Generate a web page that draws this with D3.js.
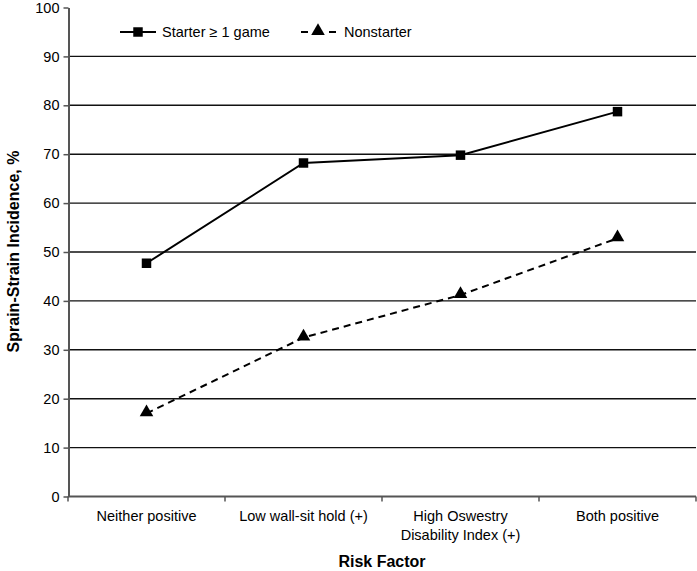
<!DOCTYPE html>
<html>
<head>
<meta charset="utf-8">
<script src="https://cdn.jsdelivr.net/npm/d3@7"></script>
<style>
  body { margin: 0; background: #fff; }
  text { font-family: "Liberation Sans", Arial, sans-serif; fill: #000; }
</style>
</head>
<body>
<svg id="chart" width="697" height="571"></svg>
<script>
var categories = [
    ['Neither positive'],
    ['Low wall-sit hold (+)'],
    ['High Oswestry', 'Disability Index (+)'],
    ['Both positive']
];
var starter = [47.6, 68.1, 69.7, 78.6];
var nonstarter = [16.9, 32.4, 41.1, 52.7];
var yTicks = [0, 10, 20, 30, 40, 50, 60, 70, 80, 90, 100];

var svg = d3.select('#chart');
var plotLeft = 68, plotRight = 696, plotTop = 7, plotBottom = 496;

var x = d3.scaleBand().domain(d3.range(categories.length)).range([plotLeft, plotRight]);
var y = d3.scaleLinear().domain([0, 100]).range([plotBottom, plotTop]);

// gridlines
svg.append('g').selectAll('line')
    .data(yTicks.filter(function(d) { return d > 0 && d < 100; }))
    .enter().append('line')
    .attr('x1', plotLeft).attr('x2', plotRight)
    .attr('y1', function(d) { return y(d) + 0.5; })
    .attr('y2', function(d) { return y(d) + 0.5; })
    .attr('stroke', '#111').attr('stroke-width', 1.4);

// y axis
var yAxis = svg.append('g').attr('transform', 'translate(' + (plotLeft + 0.5) + ',0.5)')
    .call(d3.axisLeft(y).tickValues(yTicks).tickSize(5).tickSizeOuter(0).tickPadding(4));
yAxis.select('.domain').attr('stroke', '#555').attr('stroke-width', 2);
yAxis.selectAll('.tick line').attr('stroke', '#555').attr('stroke-width', 1.5);
yAxis.selectAll('.tick text').attr('font-size', 14.5).attr('font-family', '"Liberation Sans", Arial, sans-serif').attr('fill', '#000');

// x axis
var xAxis = svg.append('g').attr('transform', 'translate(0,' + (plotBottom + 0.5) + ')');
xAxis.append('line').attr('x1', plotLeft).attr('x2', plotRight).attr('stroke', '#555').attr('stroke-width', 2);
xAxis.selectAll('.xt')
    .data(d3.range(categories.length + 1))
    .enter().append('line')
    .attr('class', 'xt')
    .attr('x1', function(d) { return d < categories.length ? x(d) : plotRight; })
    .attr('x2', function(d) { return d < categories.length ? x(d) : plotRight; })
    .attr('y1', 0).attr('y2', 5)
    .attr('stroke', '#555').attr('stroke-width', 1.5);
xAxis.selectAll('.xl')
    .data(categories)
    .enter().append('text')
    .attr('class', 'xl')
    .attr('text-anchor', 'middle')
    .attr('font-size', 14.5)
    .attr('x', function(d, i) { return x(i) + x.bandwidth() / 2; })
    .attr('y', 24.5)
    .selectAll('tspan')
    .data(function(d) { return d; })
    .enter().append('tspan')
    .attr('x', function() { return d3.select(this.parentNode).attr('x'); })
    .attr('dy', function(d, i) { return i === 0 ? 0 : 18.5; })
    .text(function(d) { return d; });

// titles
svg.append('text')
    .attr('x', (plotLeft + plotRight) / 2).attr('y', 567)
    .attr('text-anchor', 'middle').attr('font-size', 16).attr('font-weight', 'bold')
    .text('Risk Factor');
svg.append('text')
    .attr('transform', 'translate(19,' + ((plotTop + plotBottom) / 2) + ') rotate(-90)')
    .attr('text-anchor', 'middle').attr('font-size', 16).attr('font-weight', 'bold')
    .text('Sprain-Strain Incidence, %');

var cx = function(d, i) { return x(i) + x.bandwidth() / 2; };
var line = d3.line().x(cx).y(function(d) { return y(d); });

svg.append('path').datum(starter)
    .attr('d', line).attr('fill', 'none').attr('stroke', '#000').attr('stroke-width', 2);
svg.append('path').datum(nonstarter)
    .attr('d', line).attr('fill', 'none').attr('stroke', '#000').attr('stroke-width', 2)
    .attr('stroke-dasharray', '7,5');

var square = d3.symbol().type(d3.symbolSquare).size(90);
var triangle = d3.symbol().type(d3.symbolTriangle).size(80);

svg.selectAll('.sq').data(starter).enter().append('path')
    .attr('class', 'sq')
    .attr('d', square)
    .attr('transform', function(d, i) { return 'translate(' + cx(d, i) + ',' + y(d) + ')'; })
    .attr('fill', '#000');
svg.selectAll('.tr').data(nonstarter).enter().append('path')
    .attr('class', 'tr')
    .attr('d', triangle)
    .attr('transform', function(d, i) { return 'translate(' + cx(d, i) + ',' + (y(d) - 1) + ')'; })
    .attr('fill', '#000');

// legend
var lg = svg.append('g').attr('transform', 'translate(0,32)');
lg.append('line').attr('x1', 120).attr('x2', 156).attr('stroke', '#000').attr('stroke-width', 2);
lg.append('path').attr('d', square).attr('transform', 'translate(138,0)').attr('fill', '#000');
lg.append('text').attr('x', 162).attr('y', 5).attr('font-size', 14.5).text('Starter \u2265 1 game');
lg.append('line').attr('x1', 301).attr('x2', 338).attr('stroke', '#000').attr('stroke-width', 2)
    .attr('stroke-dasharray', '7,7');
lg.append('path').attr('d', triangle).attr('transform', 'translate(318,-1)').attr('fill', '#000');
lg.append('text').attr('x', 344).attr('y', 5).attr('font-size', 14.5).text('Nonstarter');
</script>
</body>
</html>
